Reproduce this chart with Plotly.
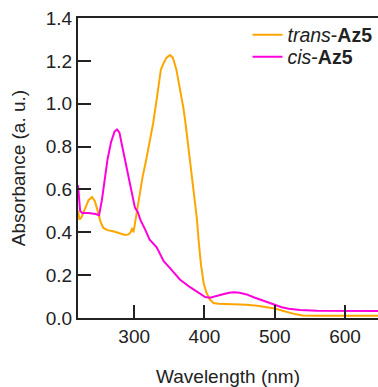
import plotly.graph_objects as go

# trans-Az5 spectrum
trans_wl = [220, 222, 225, 230, 235, 240, 244, 248, 252, 256, 262, 270, 280, 287, 292, 295, 297, 299,
            301, 304, 308, 312, 317, 322, 327, 332, 336, 337, 338, 342, 346, 351, 355, 360, 366, 370,
            373, 379, 382, 386, 389, 392, 395, 399, 403, 408, 413, 420, 440, 460, 475, 490, 500, 510,
            520, 530, 540, 560, 600, 647]
trans_abs = [0.50, 0.46, 0.47, 0.51, 0.55, 0.565, 0.545, 0.50, 0.45, 0.42, 0.41, 0.405, 0.395, 0.387,
             0.39, 0.40, 0.42, 0.40, 0.44, 0.50, 0.58, 0.66, 0.737, 0.82, 0.91, 1.02, 1.12, 1.14, 1.16,
             1.19, 1.215, 1.227, 1.215, 1.16, 1.06, 0.98, 0.91, 0.74, 0.65, 0.55, 0.47, 0.35, 0.25,
             0.16, 0.117, 0.085, 0.07, 0.066, 0.065, 0.062, 0.057, 0.05, 0.044, 0.035, 0.025, 0.017,
             0.012, 0.01, 0.01, 0.01]

# cis-Az5 spectrum
cis_wl = [220, 221, 223, 226, 235, 245, 250, 254, 258, 262, 267, 272, 275.5, 279, 283, 287, 292, 298,
          301, 305, 309, 316, 322, 332, 340, 342, 351, 365, 379, 393, 401, 408, 415, 425, 435, 442,
          450, 460, 470, 480, 490, 500, 510, 520, 536, 560, 600, 647]
cis_abs = [0.62, 0.57, 0.50, 0.49, 0.49, 0.485, 0.48, 0.55, 0.65, 0.74, 0.82, 0.87, 0.88, 0.865, 0.80,
           0.74, 0.66, 0.57, 0.515, 0.495, 0.457, 0.41, 0.365, 0.33, 0.28, 0.265, 0.233, 0.18, 0.145,
           0.115, 0.098, 0.095, 0.10, 0.11, 0.118, 0.12, 0.118, 0.11, 0.097, 0.085, 0.072, 0.06,
           0.05, 0.043, 0.037, 0.034, 0.033, 0.033]

x_ticks = [300, 400, 500, 600]
y_ticks = [0.0, 0.2, 0.4, 0.6, 0.8, 1.0, 1.2, 1.4]
y_labels = ["0.0", "0.2", "0.4", "0.6", "0.8", "1.0", "1.2", "1.4"]

FONT = "Liberation Sans, Arial, sans-serif"

fig = go.Figure()
fig.add_trace(go.Scatter(x=trans_wl, y=trans_abs, mode="lines", name="<i>trans</i>-<b>Az5</b>",
                         line=dict(color="#FFA500", width=2), legend="legend"))
fig.add_trace(go.Scatter(x=cis_wl, y=cis_abs, mode="lines", name="<i>cis</i>-<b>Az5</b>",
                         line=dict(color="#FF00DD", width=2), legend="legend2"))

leg_common = dict(xanchor="left", yanchor="middle", bgcolor="rgba(255,255,255,0)", borderwidth=0,
                  font=dict(size=19.5, color="#222222"), itemwidth=30)

fig.update_layout(
    width=378, height=387,
    margin=dict(l=78, r=0, t=18, b=69, autoexpand=False),
    paper_bgcolor="white", plot_bgcolor="white",
    font=dict(family=FONT, size=19, color="#222222"),
    showlegend=True,
    legend=dict(x=0.565, y=0.943, **leg_common),
    legend2=dict(x=0.565, y=0.870, **leg_common),
    xaxis=dict(range=[220, 647], tickvals=x_ticks, ticks="inside", ticklen=13, tickwidth=2,
               tickcolor="#222222", showline=True, linecolor="#222222", linewidth=2, mirror=True,
               showgrid=False, zeroline=False,
               title=dict(text="Wavelength (nm)", standoff=26, font=dict(size=19))),
    yaxis=dict(range=[0, 1.4], tickvals=y_ticks, ticktext=y_labels, ticks="inside", ticklen=13,
               tickwidth=2, tickcolor="#222222", showline=True, linecolor="#222222", linewidth=2,
               mirror=False, showgrid=False, zeroline=False,
               title=dict(text="Absorbance (a. u.)", standoff=15, font=dict(size=19))),
)

fig.write_html("out.html", config={"displayModeBar": False},
               post_script="document.body.style.margin='0';document.body.style.overflow='hidden';")
